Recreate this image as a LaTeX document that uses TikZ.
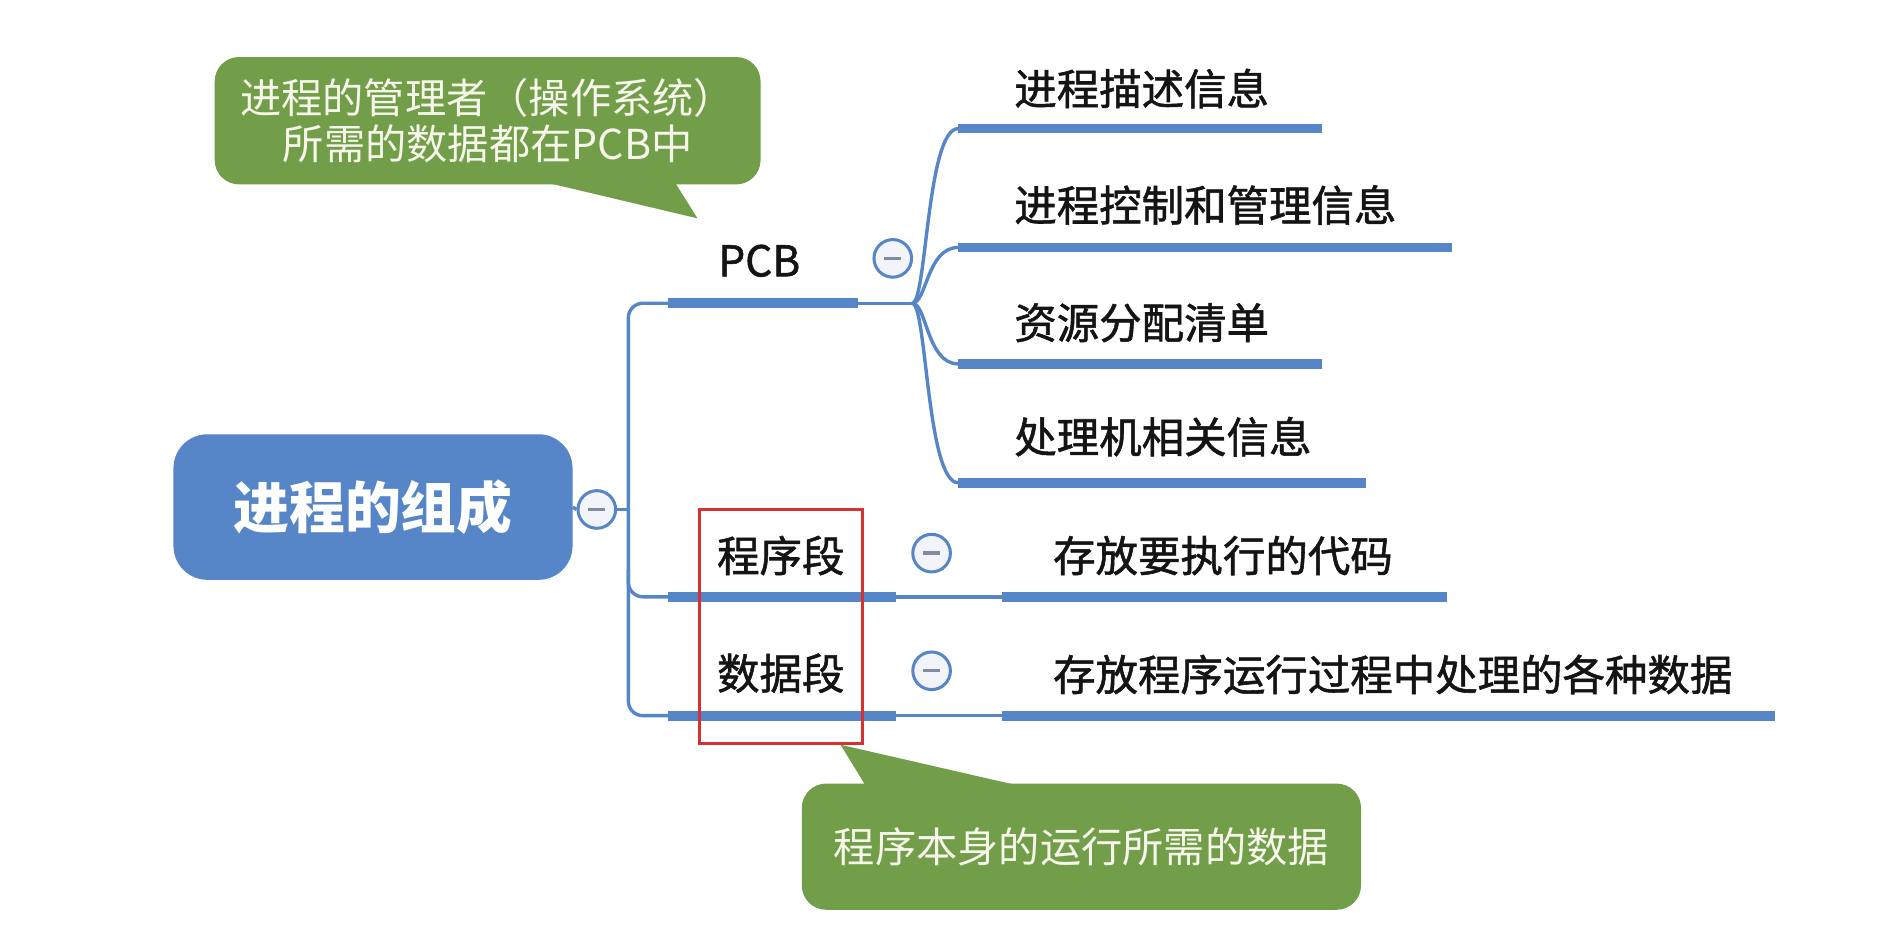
\documentclass[tikz,border=0pt]{standalone}
\usepackage{fontspec}
\setmainfont{Noto Sans CJK SC}
\newfontfamily\lblfont{Noto Sans CJK SC}[FakeBold=1.3]
\definecolor{xblue}{RGB}{86,134,199}
\definecolor{xgreen}{RGB}{114,158,74}
\definecolor{xred}{RGB}{214,48,48}
\definecolor{xtxt}{RGB}{20,20,20}
\definecolor{xcirc}{RGB}{243,243,250}
\definecolor{xminus}{RGB}{130,140,165}
\definecolor{xcall}{RGB}{246,246,235}
\tikzset{
 mainbox/.style={fill=xblue, rounded corners=28pt, minimum width=329pt, minimum height=120pt, text=white, font=\fontsize{46}{52}\selectfont\bfseries, inner sep=0},
 lbl/.style={anchor=west, inner sep=0, text=xtxt, font=\fontsize{35}{40}\selectfont\lblfont},
 bar/.style={draw=xblue, line width=8pt},
 conn/.style={draw=xblue, line width=2.8pt},
 fold/.style={circle, draw=xblue, line width=2.5pt, fill=xcirc, minimum size=31pt, inner sep=0,
   path picture={\draw[xminus, line width=2.8pt] ([xshift=-7pt]path picture bounding box.center) -- ([xshift=7pt]path picture bounding box.center);}},
 callout/.style={fill=xgreen, rounded corners=20pt, text=xcall, font=\fontsize{34}{38}\selectfont, align=center, inner sep=0},
 redbox/.style={draw=xred, line width=2.6pt}
}
\begin{document}
\begin{tikzpicture}[x=1pt,y=-1pt]
\useasboundingbox[fill=white] (0,0) rectangle (1568,765);

% root
\node[mainbox] (root) at (307.5,418) {进程的组成};
\node[fold] (f0) at (492,420) {};
\coordinate (tM) at (518,420);
\draw[conn] (root.east) -- (f0.west);
\draw[conn] (f0.east) -- (tM);

% trunk
\coordinate (pcbL) at (551,250);
\coordinate (pcbR) at (707,250);
\coordinate (pcbJ) at (752,250);
\coordinate (prgL) at (551,492);
\coordinate (prgR) at (739,492);
\coordinate (datL) at (551,590);
\coordinate (datR) at (739,590);
\coordinate (tTop) at (518,250);
\coordinate (tBot) at (518,590);
\coordinate (tMid) at (518,492);
\coordinate (tMidUp) at (518,470);
\draw[conn, rounded corners=12pt] (pcbL) -- (tTop) -- (tBot) -- (datL);
\draw[conn, rounded corners=12pt] (tMidUp) -- (tMid) -- (prgL);

% level-1 labels and bars
\node[lbl] (pcb) at (592,215) {PCB};
\node[lbl] (prg) at (591,458) {程序段};
\node[lbl] (dat) at (591,555) {数据段};
\draw[bar] (pcbL) -- (pcbR);
\draw[bar] (prgL) -- (prgR);
\draw[bar] (datL) -- (datR);
\draw[conn] (pcbR) -- (pcbJ);

\node[fold] (f1) at (736,213) {};
\node[fold] (f2) at (768,456) {};
\node[fold] (f3) at (768,553) {};

% PCB children
\coordinate (a1) at (790,106); \coordinate (a1e) at (1090,106);
\coordinate (a2) at (790,204); \coordinate (a2e) at (1197,204);
\coordinate (a3) at (790,300); \coordinate (a3e) at (1090,300);
\coordinate (a4) at (790,398); \coordinate (a4e) at (1126,398);
\draw[conn] (pcbJ) .. controls (764,250) and (764,106) .. (a1);
\draw[conn] (pcbJ) .. controls (764,250) and (764,204) .. (a2);
\draw[conn] (pcbJ) .. controls (764,250) and (764,300) .. (a3);
\draw[conn] (pcbJ) .. controls (764,250) and (764,398) .. (a4);
\draw[bar] (a1) -- (a1e);
\draw[bar] (a2) -- (a2e);
\draw[bar] (a3) -- (a3e);
\draw[bar] (a4) -- (a4e);
\node[lbl] (s1) at (836,73) {进程描述信息};
\node[lbl] (s2) at (836,169) {进程控制和管理信息};
\node[lbl] (s3) at (836,266) {资源分配清单};
\node[lbl] (s4) at (836,360) {处理机相关信息};

% program / data children
\coordinate (b1) at (826,492); \coordinate (b1e) at (1193,492);
\coordinate (b2) at (826,590); \coordinate (b2e) at (1463,590);
\draw[conn] (prgR) -- (b1);
\draw[conn] (datR) -- (b2);
\draw[bar] (b1) -- (b1e);
\draw[bar] (b2) -- (b2e);
\node[lbl] (p1) at (868,458) {存放要执行的代码};
\node[lbl] (d1) at (868,556) {存放程序运行过程中处理的各种数据};

% red highlight box
\node[redbox, minimum width=134pt, minimum height=193pt, inner sep=0] (hl) at (644,516.5) {};

% top callout
\coordinate (t1a) at (440,148); \coordinate (t1b) at (555,148); \coordinate (t1c) at (575,180);
\fill[xgreen] (t1a) -- (t1b) -- (t1c) -- cycle;
\node[callout, minimum width=450pt, minimum height=105pt] (call1) at (402,99.5) {进程的管理者（操作系统）\\所需的数据都在PCB中};

% bottom callout
\coordinate (t2a) at (715,650); \coordinate (t2b) at (850,650); \coordinate (t2c) at (693,614);
\fill[xgreen] (t2a) -- (t2b) -- (t2c) -- cycle;
\node[callout, minimum width=461pt, minimum height=104pt] (call2) at (891.5,698) {程序本身的运行所需的数据};
\end{tikzpicture}
\end{document}
